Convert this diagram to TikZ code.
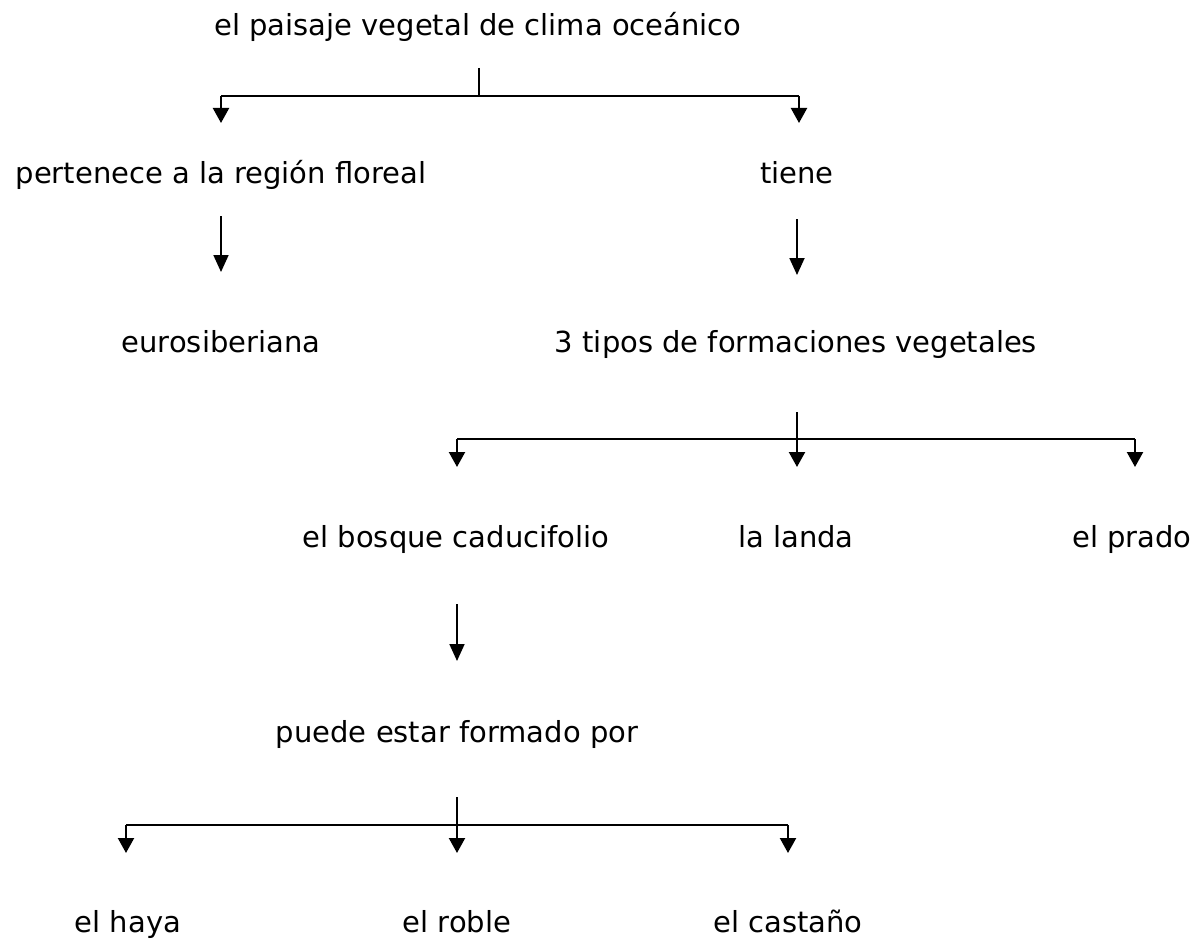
\documentclass[tikz,border=0pt]{standalone}
\usepackage{fontspec}
\setmainfont{DejaVu Sans}
\usetikzlibrary{arrows.meta}
\begin{document}
\begin{tikzpicture}[x=1pt,y=-1pt,
  lbl/.style={anchor=base,inner sep=0pt,font=\fontsize{29}{35}\selectfont},
  branch/.style={line width=2.6pt},
  drop/.style={line width=2.2pt,-{Triangle[width=16pt,length=15pt]}},
  single/.style={line width=1.8pt,-{Triangle[width=15pt,length=17pt]}}]
\useasboundingbox (0,0) rectangle (1195,942);
% texts
\node[lbl] (title) at (478,36) {el paisaje vegetal de clima oceánico};
\node[lbl] (pert) at (221,183) {pertenece a la región floreal};
\node[lbl] (tiene) at (797,183) {tiene};
\node[lbl] (euro) at (221,352) {eurosiberiana};
\node[lbl] (tres) at (796,352) {3 tipos de formaciones vegetales};
\node[lbl] (bosque) at (456,547) {el bosque caducifolio};
\node[lbl] (landa) at (796,547) {la landa};
\node[lbl] (prado) at (1132,547) {el prado};
\node[lbl] (puede) at (457,742) {puede estar formado por};
\node[lbl] (haya) at (128,932) {el haya};
\node[lbl] (roble) at (457,932) {el roble};
\node[lbl] (castano) at (788,932) {el castaño};
% coordinates
\coordinate (s0) at (479,68);
\coordinate (j0) at (479,96);
\coordinate (a0l) at (221,123);
\coordinate (a0r) at (799,123);
\coordinate (s1a) at (221,216);
\coordinate (e1a) at (221,272);
\coordinate (s1b) at (797,219);
\coordinate (e1b) at (797,275);
\coordinate (s2) at (797,412);
\coordinate (j2) at (797,439);
\coordinate (a2l) at (457,467);
\coordinate (a2m) at (797,467);
\coordinate (a2r) at (1135,467);
\coordinate (s3) at (457,604);
\coordinate (e3) at (457,661);
\coordinate (s4) at (457,797);
\coordinate (j4) at (457,825);
\coordinate (a4l) at (126,853);
\coordinate (a4m) at (457,853);
\coordinate (a4r) at (788,853);
% connectors
\draw[branch] (s0) -- (j0);
\draw[branch] (a0l |- j0) -- (a0r |- j0);
\draw[drop] (a0l |- j0) -- (a0l);
\draw[drop] (a0r |- j0) -- (a0r);
\draw[single] (s1a) -- (e1a);
\draw[single] (s1b) -- (e1b);
\draw[branch] (s2) -- (j2);
\draw[branch] (a2l |- j2) -- (a2r |- j2);
\draw[drop] (a2l |- j2) -- (a2l);
\draw[drop] (j2) -- (a2m);
\draw[drop] (a2r |- j2) -- (a2r);
\draw[single] (s3) -- (e3);
\draw[branch] (s4) -- (j4);
\draw[branch] (a4l |- j4) -- (a4r |- j4);
\draw[drop] (a4l |- j4) -- (a4l);
\draw[drop] (j4) -- (a4m);
\draw[drop] (a4r |- j4) -- (a4r);
\end{tikzpicture}
\end{document}
